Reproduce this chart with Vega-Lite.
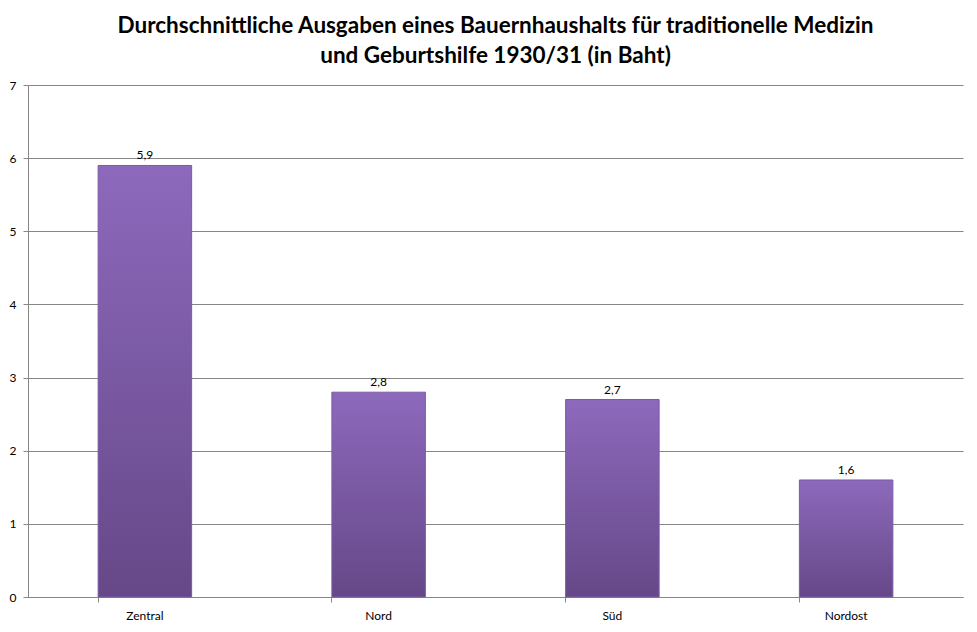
{
  "$schema": "https://vega.github.io/schema/vega-lite/v6.json",
  "width": 935,
  "height": 512,
  "padding": {"left": 9, "top": 14, "right": 15, "bottom": 5},
  "background": "white",
  "title": {
    "text": ["Durchschnittliche Ausgaben eines Bauernhaushalts für traditionelle Medizin", "und Geburtshilfe 1930/31 (in Baht)"],
    "font": "Lato",
    "fontSize": 22.5,
    "fontWeight": "bold",
    "color": "#000000",
    "lineHeight": 30,
    "offset": 12,
    "anchor": "middle"
  },
  "config": {
    "locale": {"number": {"decimal": ",", "thousands": ".", "grouping": [3], "currency": ["", " €"]}},
    "view": {"stroke": null},
    "font": "Lato"
  },
  "data": {
    "values": [
      {"region": "Zentral", "value": 5.9},
      {"region": "Nord", "value": 2.8},
      {"region": "Süd", "value": 2.7},
      {"region": "Nordost", "value": 1.6}
    ]
  },
  "encoding": {
    "x": {
      "field": "region",
      "type": "nominal",
      "sort": null,
      "scale": {"paddingInner": 0.6, "paddingOuter": 0.3},
      "axis": {
        "title": null,
        "labelAngle": 0,
        "labelFontSize": 12,
        "labelColor": "#000000",
        "labelPadding": 8,
        "bandPosition": 0,
        "tickSize": 5,
        "tickColor": "#868686",
        "domainColor": "#868686",
        "grid": false
      }
    },
    "y": {
      "field": "value",
      "type": "quantitative",
      "scale": {"domain": [0, 7], "nice": false},
      "axis": {
        "title": null,
        "values": [0, 1, 2, 3, 4, 5, 6, 7],
        "format": "d",
        "labelFontSize": 12,
        "labelColor": "#000000",
        "labelPadding": 7,
        "tickSize": 5,
        "tickColor": "#868686",
        "domainColor": "#868686",
        "gridColor": "#868686",
        "gridOpacity": 1
      }
    }
  },
  "layer": [
    {
      "mark": {
        "type": "bar",
        "color": {
          "gradient": "linear",
          "x1": 0, "y1": 0, "x2": 0, "y2": 1,
          "stops": [
            {"offset": 0, "color": "#8d69bc"},
            {"offset": 1, "color": "#664888"}
          ]
        },
        "stroke": "#7b5aa6",
        "strokeWidth": 1
      }
    },
    {
      "mark": {"type": "text", "dy": -10, "fontSize": 12, "color": "#000000"},
      "encoding": {
        "text": {"field": "value", "type": "quantitative", "format": ".1f"}
      }
    }
  ]
}
